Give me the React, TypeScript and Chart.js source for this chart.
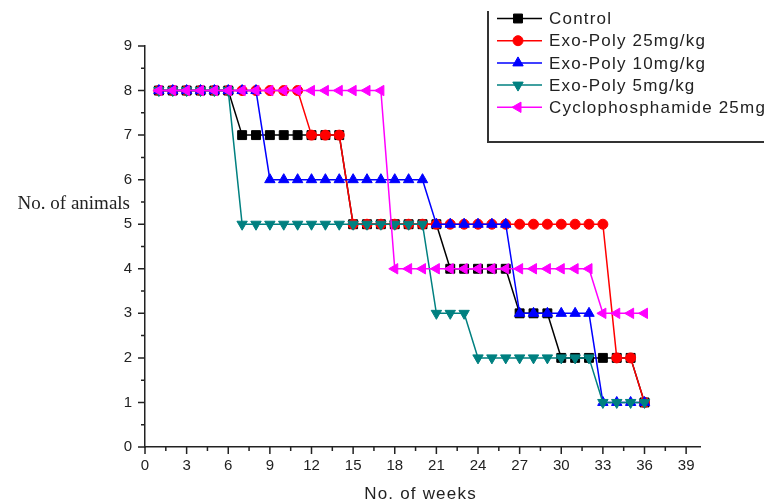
import React, { useEffect, useRef } from 'react';
import { Chart, registerables } from 'chart.js';
import { drawPoint } from 'chart.js/helpers';

Chart.register(...registerables);

// ---------- data ----------
const weeks = [1, 2, 3, 4, 5, 6, 7, 8, 9, 10, 11, 12, 13, 14, 15, 16, 17, 18, 19, 20, 21, 22, 23, 24, 25, 26, 27, 28, 29, 30, 31, 32, 33, 34, 35, 36];

const control = [8, 8, 8, 8, 8, 8, 7, 7, 7, 7, 7, 7, 7, 7, 5, 5, 5, 5, 5, 5, 5, 4, 4, 4, 4, 4, 3, 3, 3, 2, 2, 2, 2, 2, 2, 1];
const exoPoly25 = [8, 8, 8, 8, 8, 8, 8, 8, 8, 8, 8, 7, 7, 7, 5, 5, 5, 5, 5, 5, 5, 5, 5, 5, 5, 5, 5, 5, 5, 5, 5, 5, 5, 2, 2, 1];
const exoPoly10 = [8, 8, 8, 8, 8, 8, 8, 8, 6, 6, 6, 6, 6, 6, 6, 6, 6, 6, 6, 6, 5, 5, 5, 5, 5, 5, 3, 3, 3, 3, 3, 3, 1, 1, 1, 1];
const exoPoly5 = [8, 8, 8, 8, 8, 8, 5, 5, 5, 5, 5, 5, 5, 5, 5, 5, 5, 5, 5, 5, 3, 3, 3, 2, 2, 2, 2, 2, 2, 2, 2, 2, 1, 1, 1, 1];
const cyclophosphamide = [8, 8, 8, 8, 8, 8, 8, 8, 8, 8, 8, 8, 8, 8, 8, 8, 8, 4, 4, 4, 4, 4, 4, 4, 4, 4, 4, 4, 4, 4, 4, 4, 3, 3, 3, 3];

const seriesNames = ['Control', 'Exo-Poly 25mg/kg', 'Exo-Poly 10mg/kg', 'Exo-Poly 5mg/kg', 'Cyclophosphamide 25mg/kg'];

const xMajorTicks = [0, 3, 6, 9, 12, 15, 18, 21, 24, 27, 30, 33, 36, 39];
const xMinorTicks = [1.5, 4.5, 7.5, 10.5, 13.5, 16.5, 19.5, 22.5, 25.5, 28.5, 31.5, 34.5, 37.5];
const yMajorTicks = [0, 1, 2, 3, 4, 5, 6, 7, 8, 9];
const yMinorTicks = [0.5, 1.5, 2.5, 3.5, 4.5, 5.5, 6.5, 7.5, 8.5];

const xTitle = 'No. of weeks';
const yTitle = 'No. of animals';

// ---------- styles ----------
const SANS = '"Liberation Sans", Arial, sans-serif';
const SERIF = '"Liberation Serif", "Times New Roman", serif';
const AXIS_COLOR = '#222';

const seriesStyles = [
  { color: '#000000', pointStyle: 'rect', rotation: 0, radius: 6.3, order: 5 },
  { color: '#FF0000', pointStyle: 'circle', rotation: 0, radius: 5, order: 4 },
  { color: '#0000FF', pointStyle: 'triangle', rotation: 0, radius: 6, order: 3 },
  { color: '#008080', pointStyle: 'triangle', rotation: 180, radius: 6, order: 2 },
  { color: '#FF00FF', pointStyle: 'triangle', rotation: -90, radius: 6, order: 1 },
];

const seriesValues = [control, exoPoly25, exoPoly10, exoPoly5, cyclophosphamide];

const decorPlugin = {
  id: 'decor',
  afterDraw(chart: any) {
    const ctx = chart.ctx as CanvasRenderingContext2D;
    const xs = chart.scales.x;
    const ys = chart.scales.y;
    const area = chart.chartArea;
    ctx.save();
    ctx.strokeStyle = AXIS_COLOR;
    ctx.lineWidth = 1.5;
    ctx.beginPath();
    xMajorTicks.forEach((v) => {
      const px = xs.getPixelForValue(v);
      ctx.moveTo(px, area.bottom);
      ctx.lineTo(px, area.bottom + 7);
    });
    xMinorTicks.forEach((v) => {
      const px = xs.getPixelForValue(v);
      ctx.moveTo(px, area.bottom);
      ctx.lineTo(px, area.bottom + 4);
    });
    yMajorTicks.forEach((v) => {
      const py = ys.getPixelForValue(v);
      ctx.moveTo(area.left, py);
      ctx.lineTo(area.left - 7, py);
    });
    yMinorTicks.forEach((v) => {
      const py = ys.getPixelForValue(v);
      ctx.moveTo(area.left, py);
      ctx.lineTo(area.left - 4, py);
    });
    ctx.stroke();

    // axis titles
    ctx.fillStyle = AXIS_COLOR;
    ctx.font = `17px ${SANS}`;
    ctx.textAlign = 'center';
    ctx.textBaseline = 'middle';
    (ctx as any).letterSpacing = '1.2px';
    ctx.fillText(xTitle, (area.left + area.right) / 2 - 2, 494);
    (ctx as any).letterSpacing = '0px';
    ctx.font = `19px ${SERIF}`;
    ctx.textAlign = 'right';
    ctx.fillText(yTitle, 130, 204);

    // legend box
    ctx.strokeStyle = '#333';
    ctx.lineWidth = 2;
    ctx.beginPath();
    ctx.moveTo(488, 11);
    ctx.lineTo(488, 142);
    ctx.lineTo(770, 142);
    ctx.stroke();

    // legend entries
    const y0 = 18.5;
    const dy = 22.2;
    chart.data.datasets.forEach((ds: any, i: number) => {
      const st = seriesStyles[i];
      const y = y0 + i * dy;
      ctx.strokeStyle = st.color;
      ctx.fillStyle = st.color;
      ctx.lineWidth = 1.5;
      ctx.beginPath();
      ctx.moveTo(497, y);
      ctx.lineTo(542, y);
      ctx.stroke();
      ctx.lineWidth = 1;
      drawPoint(ctx, { pointStyle: st.pointStyle, rotation: st.rotation, radius: st.radius, borderWidth: 1 } as any, 518, y);
      ctx.fillStyle = AXIS_COLOR;
      ctx.font = `17px ${SANS}`;
      ctx.textAlign = 'left';
      ctx.textBaseline = 'middle';
      (ctx as any).letterSpacing = '1.2px';
      ctx.fillText(ds.label, 549, y + 1);
      (ctx as any).letterSpacing = '0px';
    });
    ctx.restore();
  },
};

export default function App() {
  const canvasRef = useRef<HTMLCanvasElement | null>(null);

  useEffect(() => {
    const canvas = canvasRef.current;
    if (!canvas) return;
    const datasets = seriesValues.map((vals, i) => {
      const st = seriesStyles[i];
      return {
        label: seriesNames[i],
        data: weeks.map((w, j) => ({ x: w, y: vals[j] })),
        borderColor: st.color,
        backgroundColor: st.color,
        borderWidth: 1.5,
        pointStyle: st.pointStyle,
        pointRotation: st.rotation,
        pointRadius: st.radius,
        pointBorderWidth: 1,
        pointBorderColor: st.color,
        pointBackgroundColor: st.color,
        tension: 0,
        fill: false,
        order: st.order,
      };
    });

    const chart = new Chart(canvas, {
      type: 'line',
      data: { datasets },
      options: {
        animation: false,
        responsive: false,
        devicePixelRatio: 1,
        layout: { padding: { top: 46, right: 64, bottom: 0, left: 0 } },
        plugins: {
          legend: { display: false },
          tooltip: { enabled: false },
        },
        scales: {
          x: {
            type: 'linear',
            min: 0,
            max: 40,
            grid: { display: false, drawTicks: true, tickLength: 7 },
            border: { display: true, color: AXIS_COLOR, width: 1.5 },
            afterBuildTicks: (scale: any) => {
              scale.ticks = xMajorTicks.map((v) => ({ value: v }));
            },
            afterFit: (scale: any) => {
              scale.height = 57;
            },
            ticks: {
              autoSkip: false,
              maxRotation: 0,
              padding: 3,
              color: AXIS_COLOR,
              font: { family: SANS, size: 15 },
            },
          },
          y: {
            type: 'linear',
            min: 0,
            max: 9,
            grid: { display: false, drawTicks: true, tickLength: 7 },
            border: { display: true, color: AXIS_COLOR, width: 1.5 },
            afterBuildTicks: (scale: any) => {
              scale.ticks = yMajorTicks.map((v) => ({ value: v }));
            },
            afterFit: (scale: any) => {
              scale.width = 145;
            },
            ticks: {
              autoSkip: false,
              padding: 6,
              color: AXIS_COLOR,
              font: { family: SANS, size: 15 },
            },
          },
        },
      },
      plugins: [decorPlugin],
    } as any);

    return () => chart.destroy();
  }, []);

  return (
    <div style={{ position: 'fixed', left: 0, top: 0, width: 764, height: 504, background: '#fff' }}>
      <canvas ref={canvasRef} width={764} height={504} style={{ display: 'block', width: 764, height: 504 }} />
    </div>
  );
}
